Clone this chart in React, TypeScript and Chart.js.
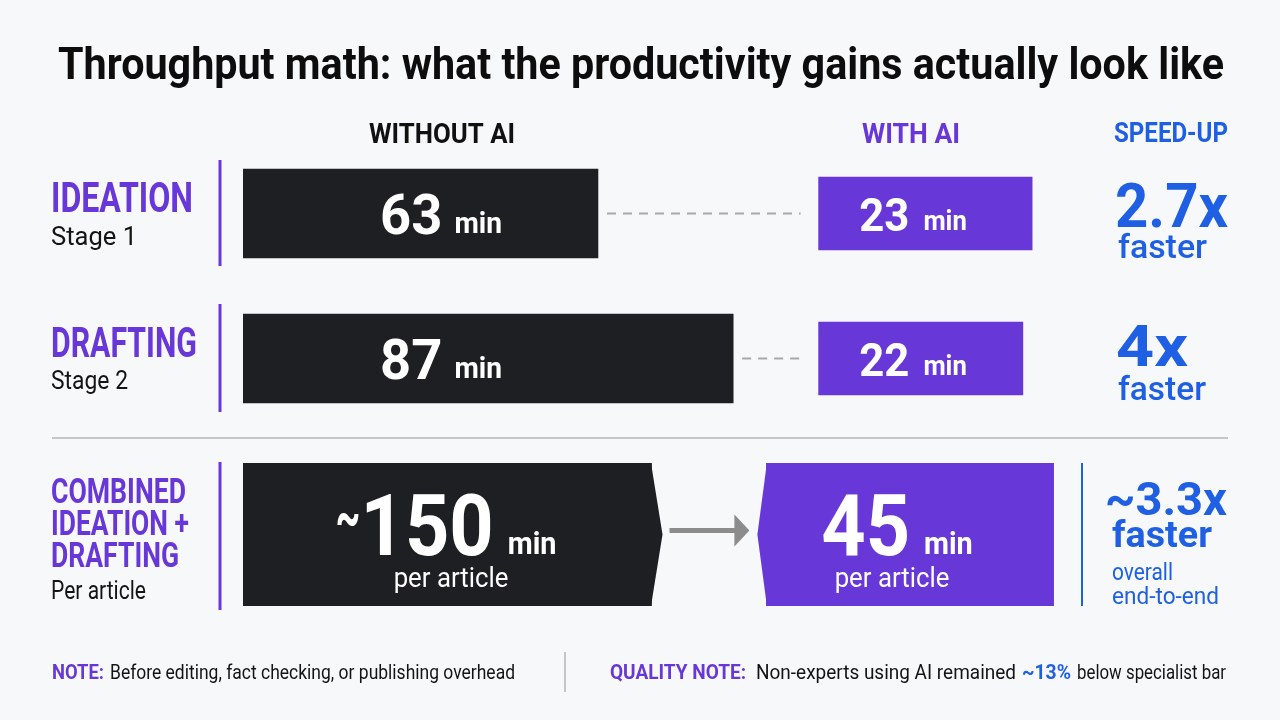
import { useEffect, useRef } from "react";
import { Chart, registerables } from "chart.js";

Chart.register(...registerables);

// Minutes spent per stage, without and with AI assistance
const stageNames = ["Ideation", "Drafting"];
const minutesWithoutAI = [63, 87];
const minutesWithAI = [23, 22];
const speedUpLabels = ["2.7x", "4x"];

// Ideation + drafting combined, per article
const combinedName = ["Combined"];
const combinedWithoutAI = [150];
const combinedWithAI = [45];
const combinedSpeedUp = "~3.3x";

const INK = "#1e1f22";
const PURPLE = "#6737d8";
const BLUE = "#1f5fe3";
const TEXT = "#141414";
const FONT = 'Roboto, "Noto Sans", "DejaVu Sans", sans-serif';

type Ctx = CanvasRenderingContext2D;

// Draws a text run so that it spans exactly `width` pixels (condensed look)
function fitText(ctx: Ctx, text: string, left: number, baseline: number, size: number, weight: number, color: string, width: number) {
  ctx.save();
  ctx.font = `${weight} ${size}px ${FONT}`;
  ctx.fillStyle = color;
  ctx.textAlign = "left";
  ctx.textBaseline = "alphabetic";
  const w = ctx.measureText(text).width || 1;
  ctx.translate(left, baseline);
  ctx.scale(width / w, 1);
  ctx.fillText(text, 0, 0);
  ctx.restore();
}

// Draws text horizontally condensed by `sx`, returns drawn width
function condensed(ctx: Ctx, text: string, left: number, baseline: number, size: number, weight: number, color: string, sx: number) {
  ctx.save();
  ctx.font = `${weight} ${size}px ${FONT}`;
  ctx.fillStyle = color;
  ctx.textAlign = "left";
  ctx.textBaseline = "alphabetic";
  const w = ctx.measureText(text).width * sx;
  ctx.translate(left, baseline);
  ctx.scale(sx, 1);
  ctx.fillText(text, 0, 0);
  ctx.restore();
  return w;
}

function measure(ctx: Ctx, text: string, size: number, weight: number, sx: number) {
  ctx.save();
  ctx.font = `${weight} ${size}px ${FONT}`;
  const w = ctx.measureText(text).width * sx;
  ctx.restore();
  return w;
}

// "<value> min" label centred on cx
function minutesLabel(ctx: Ctx, value: number, approx: boolean, cx: number, baseline: number, numSize: number, minSize: number, gap: number, sx: number) {
  const num = String(value);
  const tildeSize = numSize * 0.72;
  const tw = approx ? measure(ctx, "~", tildeSize, 700, 0.62) : 0;
  const nw = measure(ctx, num, numSize, 700, sx);
  const mw = measure(ctx, "min", minSize, 700, sx);
  let x = cx - (tw + nw + gap + mw) / 2;
  if (approx) {
    condensed(ctx, "~", x, baseline - numSize * 0.2, tildeSize, 700, "#fff", 0.62);
    x += tw;
  }
  x += condensed(ctx, num, x, baseline, numSize, 700, "#fff", sx);
  condensed(ctx, "min", x + gap, baseline - 1, minSize, 700, "#fff", sx);
}

function vline(ctx: Ctx, x: number, y0: number, y1: number, color: string, w: number) {
  ctx.save();
  ctx.strokeStyle = color;
  ctx.lineWidth = w;
  ctx.beginPath();
  ctx.moveTo(x, y0);
  ctx.lineTo(x, y1);
  ctx.stroke();
  ctx.restore();
}

const stageDecor = {
  id: "stageDecor",
  afterDatasetsDraw(chart: any) {
    const ctx: Ctx = chart.ctx;
    const without = chart.getDatasetMeta(0).data;
    const withAI = chart.getDatasetMeta(1).data;
    without.forEach((el: any, i: number) => {
      const p = withAI[i];
      // dashed connector between the two bars
      ctx.save();
      ctx.strokeStyle = "#a8a8a8";
      ctx.lineWidth = 2;
      ctx.setLineDash([9, 7]);
      ctx.beginPath();
      ctx.moveTo(el.x + 9, el.y);
      ctx.lineTo(p.base - 18, el.y);
      ctx.stroke();
      ctx.restore();
      minutesLabel(ctx, minutesWithoutAI[i], false, 441, el.y + 20, 56, 29, 12, 0.97);
      minutesLabel(ctx, minutesWithAI[i], false, 913, p.y + 17, 46, 27, 14, 0.95);
    });
  },
  afterDraw(chart: any) {
    const ctx: Ctx = chart.ctx;
    fitText(ctx, "Throughput math: what the productivity gains actually look like", 58, 79, 45, 700, "#0d0d0d", 1166);

    fitText(ctx, "WITHOUT AI", 369, 143, 27, 700, "#111", 146);
    fitText(ctx, "WITH AI", 862, 143, 27, 700, PURPLE, 98);
    fitText(ctx, "SPEED-UP", 1114, 142, 27, 700, BLUE, 114);

    fitText(ctx, "IDEATION", 51, 212, 42, 700, PURPLE, 142);
    fitText(ctx, "Stage 1", 51, 245, 25, 400, TEXT, 86);
    fitText(ctx, "DRAFTING", 51, 357, 42, 700, PURPLE, 146);
    fitText(ctx, "Stage 2", 51, 389, 25, 400, TEXT, 77);
    fitText(ctx, "COMBINED", 51, 503, 35, 700, PURPLE, 135);
    fitText(ctx, "IDEATION +", 51, 535, 35, 700, PURPLE, 138);
    fitText(ctx, "DRAFTING", 51, 567, 35, 700, PURPLE, 128);
    fitText(ctx, "Per article", 51, 599, 25, 400, TEXT, 95);

    vline(ctx, 220, 160, 266, PURPLE, 3);
    vline(ctx, 220, 304, 412, PURPLE, 3);
    vline(ctx, 220, 462, 610, PURPLE, 3);

    fitText(ctx, speedUpLabels[0], 1115, 227, 62, 700, BLUE, 113);
    fitText(ctx, "faster", 1118, 258, 33, 500, BLUE, 89);
    fitText(ctx, speedUpLabels[1], 1116, 366, 58, 700, BLUE, 72);
    fitText(ctx, "faster", 1118, 400, 33, 500, BLUE, 88);
    fitText(ctx, combinedSpeedUp, 1105, 515, 46, 700, BLUE, 122);
    fitText(ctx, "faster", 1112, 547, 36, 700, BLUE, 100);
    fitText(ctx, "overall", 1112, 580, 24, 400, BLUE, 61);
    fitText(ctx, "end-to-end", 1112, 604, 24, 400, BLUE, 107);
    vline(ctx, 1082, 463, 606, BLUE, 2);

    // section divider
    ctx.save();
    ctx.strokeStyle = "#c6c6c6";
    ctx.lineWidth = 2;
    ctx.beginPath();
    ctx.moveTo(52, 438);
    ctx.lineTo(1228, 438);
    ctx.stroke();
    ctx.restore();

    // footnotes
    fitText(ctx, "NOTE:", 52, 679, 20, 700, PURPLE, 52);
    fitText(ctx, "Before editing, fact checking, or publishing overhead", 110, 679, 20, 400, TEXT, 405);
    vline(ctx, 565, 652, 692, "#b4b4b4", 1.5);
    fitText(ctx, "QUALITY NOTE:", 610, 679, 20, 700, PURPLE, 136);
    fitText(ctx, "Non-experts using AI remained", 756, 679, 20, 400, TEXT, 260);
    fitText(ctx, "~13%", 1022, 679, 20, 700, BLUE, 49);
    fitText(ctx, "below specialist bar", 1077, 679, 20, 400, TEXT, 149);
  },
};

const combinedDecor = {
  id: "combinedDecor",
  afterDatasetsDraw(chart: any) {
    const ctx: Ctx = chart.ctx;
    const b = chart.getDatasetMeta(0).data[0];
    const p = chart.getDatasetMeta(1).data[0];
    const half = b.height / 2;
    const tip = 11;
    // pointed right end of the "without" bar
    ctx.save();
    ctx.fillStyle = INK;
    ctx.beginPath();
    ctx.moveTo(b.x - 0.5, b.y - half);
    ctx.lineTo(b.x + tip, b.y);
    ctx.lineTo(b.x - 0.5, b.y + half);
    ctx.closePath();
    ctx.fill();
    // pointed left end of the "with AI" bar
    ctx.fillStyle = PURPLE;
    ctx.beginPath();
    ctx.moveTo(p.base + 0.5, p.y - half);
    ctx.lineTo(p.base - 9, p.y);
    ctx.lineTo(p.base + 0.5, p.y + half);
    ctx.closePath();
    ctx.fill();
    // arrow between them
    const x0 = b.x + tip + 7;
    const x1 = p.base - 9 - 8;
    const y = b.y - 4;
    ctx.strokeStyle = "#8c8c8c";
    ctx.fillStyle = "#8c8c8c";
    ctx.lineWidth = 5;
    ctx.beginPath();
    ctx.moveTo(x0, y);
    ctx.lineTo(x1 - 14, y);
    ctx.stroke();
    ctx.beginPath();
    ctx.moveTo(x1 - 15, y - 16);
    ctx.lineTo(x1, y);
    ctx.lineTo(x1 - 15, y + 16);
    ctx.closePath();
    ctx.fill();
    ctx.restore();

    minutesLabel(ctx, combinedWithoutAI[0], true, 446, b.y + 20, 86, 32, 14, 0.9);
    minutesLabel(ctx, combinedWithAI[0], false, 897, p.y + 20, 86, 32, 14, 0.9);
    const pa = measure(ctx, "per article", 28, 400, 0.92);
    condensed(ctx, "per article", 451 - pa / 2, b.y + 52, 28, 400, "#fff", 0.92);
    condensed(ctx, "per article", 892 - pa / 2, p.y + 52, 28, 400, "#fff", 0.92);
  },
};

export default function App() {
  const stageRef = useRef<HTMLCanvasElement>(null);
  const combinedRef = useRef<HTMLCanvasElement>(null);

  useEffect(() => {
    const stageChart = new Chart(stageRef.current!, {
      type: "bar",
      data: {
        labels: stageNames,
        datasets: [
          {
            label: "Without AI",
            data: minutesWithoutAI.map((v) => [0, v]) as any,
            xAxisID: "xWithout",
            backgroundColor: INK,
            barThickness: 89,
            grouped: false,
          },
          {
            label: "With AI",
            data: minutesWithAI.map((v) => [0, v]) as any,
            xAxisID: "xWith",
            backgroundColor: PURPLE,
            barThickness: 73,
            grouped: false,
          },
        ],
      },
      options: {
        indexAxis: "y",
        responsive: false,
        animation: false,
        layout: { padding: { left: 243, right: 220, top: 141, bottom: 289 } },
        scales: {
          y: { type: "category", display: false },
          xWithout: { type: "linear", axis: "x", position: "bottom", display: false, min: 0, max: 145 },
          xWith: { type: "linear", axis: "x", position: "bottom", display: false, min: -62, max: 26 },
        },
        plugins: { legend: { display: false }, tooltip: { enabled: false } },
      },
      plugins: [stageDecor],
    } as any);

    const combinedChart = new Chart(combinedRef.current!, {
      type: "bar",
      data: {
        labels: combinedName,
        datasets: [
          {
            label: "Without AI",
            data: combinedWithoutAI.map((v) => [0, v]) as any,
            xAxisID: "xWithout",
            backgroundColor: INK,
            barThickness: 143,
            grouped: false,
          },
          {
            label: "With AI",
            data: combinedWithAI.map((v) => [0, v]) as any,
            xAxisID: "xWith",
            backgroundColor: PURPLE,
            barThickness: 143,
            grouped: false,
          },
        ],
      },
      options: {
        indexAxis: "y",
        responsive: false,
        animation: false,
        layout: { padding: { left: 243, right: 220, top: 463, bottom: 114 } },
        scales: {
          y: { type: "category", display: false },
          xWithout: { type: "linear", axis: "x", position: "bottom", display: false, min: 0, max: 300 },
          xWith: { type: "linear", axis: "x", position: "bottom", display: false, min: -82, max: 46 },
        },
        plugins: { legend: { display: false }, tooltip: { enabled: false } },
      },
      plugins: [combinedDecor],
    } as any);

    return () => {
      stageChart.destroy();
      combinedChart.destroy();
    };
  }, []);

  const canvasStyle: React.CSSProperties = {
    position: "absolute",
    left: 0,
    top: 0,
    width: 1280,
    height: 720,
    display: "block",
  };

  return (
    <div
      style={{
        position: "fixed",
        left: 0,
        top: 0,
        width: 1280,
        height: 720,
        overflow: "hidden",
        background: "#f7f8fa",
      }}
    >
      <canvas ref={stageRef} width={1280} height={720} style={canvasStyle} />
      <canvas ref={combinedRef} width={1280} height={720} style={canvasStyle} />
    </div>
  );
}
